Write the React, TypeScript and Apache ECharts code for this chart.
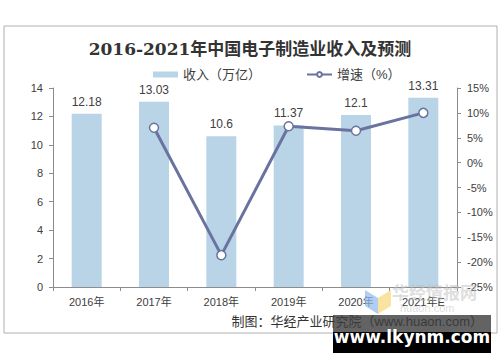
import React, { useEffect, useRef } from "react";
import * as echarts from "echarts";

const categories = ["2016年", "2017年", "2018年", "2019年", "2020年", "2021年E"];
const revenue = [12.18, 13.03, 10.6, 11.37, 12.1, 13.31];
const growth: (number | null)[] = [null, 7.0, -18.6, 7.3, 6.4, 10.0];
const leftTicks = { min: 0, max: 14, interval: 2 };
const rightTicks = { min: -25, max: 15, interval: 5 };

export default function App() {
  const ref = useRef<HTMLDivElement>(null);
  useEffect(() => {
    if (!ref.current) return;
    const chart = echarts.init(ref.current, null, { renderer: "svg" });
    const axisLine = { show: true, lineStyle: { color: "#8c8c8c", width: 1 } };
    const font = "Arial, 'Liberation Sans', 'Noto Sans CJK SC', sans-serif";
    chart.setOption({
      animation: false,
      backgroundColor: "#ffffff",
      textStyle: { fontFamily: font },
      title: {
        text: "2016-2021年中国电子制造业收入及预测",
        left: "center",
        top: 35,
        textStyle: {
          fontFamily: "'DejaVu Serif', 'Liberation Serif', 'Noto Sans CJK SC', serif",
          fontWeight: "bold",
          fontSize: 17,
          color: "#333333",
        },
      },
      legend: {
        top: 63,
        left: 148,
        itemGap: 45,
        textStyle: { fontSize: 13, color: "#404040", fontFamily: font },
        data: [
          { name: "收入（万亿）", icon: "rect", itemStyle: { color: "#b8d4e6" } },
          { name: "增速（%）" },
        ],
        itemWidth: 25,
        itemHeight: 6,
      },
      grid: { left: 53, right: 43, top: 88, bottom: 75 },
      xAxis: {
        type: "category",
        data: categories,
        axisLine,
        axisTick: { show: true, alignWithLabel: false, lineStyle: { color: "#8c8c8c" }, length: 4 },
        axisLabel: { color: "#404040", fontSize: 11, margin: 9 },
      },
      yAxis: [
        {
          type: "value",
          ...leftTicks,
          axisLine,
          axisTick: { show: true, lineStyle: { color: "#8c8c8c" }, length: 4 },
          splitLine: { show: false },
          axisLabel: { color: "#404040", fontSize: 11, margin: 10 },
        },
        {
          type: "value",
          ...rightTicks,
          position: "right",
          axisLine,
          axisTick: { show: true, lineStyle: { color: "#8c8c8c" }, length: 4 },
          splitLine: { show: false },
          axisLabel: { color: "#404040", fontSize: 11, margin: 10, formatter: "{value}%" },
        },
      ],
      series: [
        {
          name: "收入（万亿）",
          type: "bar",
          data: revenue,
          barWidth: 30,
          itemStyle: { color: "#b8d4e6" },
          label: { show: true, position: "top", color: "#404040", fontSize: 12, distance: 6 },
          z: 1,
        },
        {
          name: "增速（%）",
          type: "line",
          yAxisIndex: 1,
          data: growth,
          symbol: "circle",
          symbolSize: 9,
          lineStyle: { color: "#6a73a0", width: 3 },
          itemStyle: { color: "#ffffff", borderColor: "#6a73a0", borderWidth: 1.5 },
          z: 3,
        },
      ],
      graphic: [
        {
          type: "rect",
          shape: { x: 4, y: 26, width: 493, height: 307 },
          style: { fill: "none", stroke: "#b0b0b0", lineWidth: 1 },
          z: 0,
          silent: true,
        },
        {
          type: "polygon",
          shape: { points: [[365, 290], [378, 298], [378, 314], [365, 306]] },
          style: { fill: "#8fb8f0", opacity: 0.7 },
          z: 5,
        },
        {
          type: "polygon",
          shape: { points: [[378, 298], [391, 290], [391, 306], [378, 314]] },
          style: { fill: "#f8dc8a", opacity: 0.8 },
          z: 5,
        },
        {
          type: "text",
          x: 392,
          y: 285,
          style: { text: "华经情报网", fontSize: 17, fontWeight: "bold", fill: "rgba(190,190,190,0.5)", fontFamily: font },
          z: 5,
        },
        {
          type: "text",
          x: 400,
          y: 302,
          style: { text: "huaon.com", fontSize: 11, fill: "rgba(200,200,200,0.6)", fontFamily: font },
          z: 5,
        },
        {
          type: "text",
          right: 17,
          y: 315,
          style: { text: "制图：华经产业研究院（www.huaon.com）", fontSize: 13, fill: "#333333", fontFamily: font },
          z: 6,
        },
        {
          type: "rect",
          shape: { x: 333, y: 315, width: 158, height: 17 },
          style: { fill: "rgba(60,60,60,0.8)" },
          z: 7,
        },
        {
          type: "rect",
          shape: { x: 333, y: 332, width: 158, height: 21 },
          style: { fill: "#000000" },
          z: 7,
        },
        {
          type: "text",
          x: 412,
          y: 337,
          style: {
            text: "www.lkynm.com",
            fontSize: 17,
            fontWeight: "bold",
            fill: "#ffffff",
            align: "center",
            verticalAlign: "middle",
            fontFamily: "'DejaVu Sans', Arial, sans-serif",
          },
          z: 8,
        },
      ],
    });
    return () => chart.dispose();
  }, []);
  return <div ref={ref} style={{ width: 500, height: 362, position: "absolute", left: 0, top: 0 }} />;
}
